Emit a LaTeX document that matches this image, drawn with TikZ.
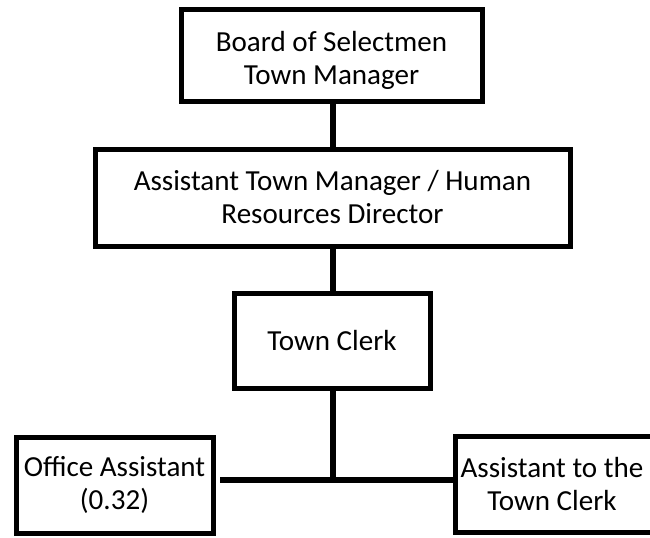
\documentclass[tikz,border=0pt]{standalone}
\usepackage{fontspec}
\setmainfont{Carlito}
\begin{document}
\begin{tikzpicture}[x=0.75pt,y=-0.75pt,
  box/.style={draw, line width=3.75pt, align=center, inner sep=0pt,
    font=\fontsize{21.8}{24.75}\selectfont},
  link/.style={line width=4.4pt}]
\useasboundingbox (0,0) rectangle (650,537);
\clip (0,0) rectangle (650,537);
\node[box, minimum width=225.75pt, minimum height=69pt] (A) at (331.5,55)
  {\raisebox{-4.5pt}[\height][\depth]{\begin{tabular}{@{}c@{}}Board of Selectmen\\Town Manager\end{tabular}}};
\node[box, minimum width=356.25pt, minimum height=72.75pt] (B) at (332.5,197.5) {Assistant Town Manager / Human\\Resources Director};
\node[box, minimum width=147pt, minimum height=71.25pt] (C) at (332,340.5) {Town Clerk};
\node[box, minimum width=147.75pt, minimum height=72pt] (D) at (114.5,485) {Office Assistant\\(0.32)};
\node[box, minimum width=183.75pt, minimum height=72pt] (E) at (577.5,484)
  {Assistant to the\hspace*{38.25pt}\\Town Clerk\hspace*{38.25pt}};
\coordinate (J) at (333,480);
\coordinate (L) at (220,480);
\draw[link] (A.south -| J) -- (B.north -| J);
\draw[link] (B.south -| J) -- (C.north -| J);
\draw[link] (C.south -| J) -- (J);
\draw[link] (L) -- (E.west |- J);
\end{tikzpicture}
\end{document}
